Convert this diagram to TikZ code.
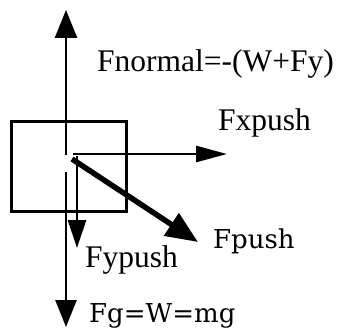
\documentclass[tikz,border=0pt]{standalone}
\usepackage{fontspec}
\setmainfont{Liberation Serif}
\newfontfamily\slabfont{DejaVu Serif}
\usetikzlibrary{arrows.meta}
\begin{document}
\begin{tikzpicture}[x=1pt,y=-1pt,
  force/.style={line width=2.7pt},
  lbl/.style={inner sep=0pt,anchor=base west,font=\fontsize{31.5}{36}\selectfont},
  slab/.style={inner sep=0pt,anchor=base west,font=\slabfont\fontsize{26}{30}\selectfont}]
\useasboundingbox (0,0) rectangle (340,329);
% box
\node[draw,line width=2.5pt,minimum width=115pt,minimum height=90pt,inner sep=0pt,anchor=north west] (box) at (10,120) {};
% coordinates
\coordinate (nS) at (66,155);
\coordinate (nE) at (66,10);
\coordinate (gS) at (66,172);
\coordinate (gE) at (66,327);
\coordinate (xS) at (73,154);
\coordinate (xE) at (227,154);
\coordinate (yS) at (77,156);
\coordinate (yE) at (77,248);
\coordinate (pS) at (72,159);
\coordinate (pE) at (198,242);
% arrows
\draw[force,-{Triangle[length=28pt,width=22pt]}] (nS) -- (nE);
\draw[force,-{Triangle[length=27pt,width=21pt]}] (gS) -- (gE);
\draw[force,-{Triangle[length=31pt,width=16pt]}] (xS) -- (xE);
\draw[force,-{Triangle[length=28pt,width=18pt]}] (yS) -- (yE);
\draw[line width=5.5pt,-{Triangle[length=32pt,width=26pt]}] (pS) -- (pE);
% labels
\node[lbl] (fn) at (97,72) {Fnormal=-(W+Fy)};
\node[lbl] (fx) at (218,130) {Fxpush};
\node[lbl] (fy) at (85,267) {Fypush};
\node[slab] (fp) at (213,248) {Fpush};
\node[slab] (fg) at (89,322) {Fg=W=mg};
\end{tikzpicture}
\end{document}
